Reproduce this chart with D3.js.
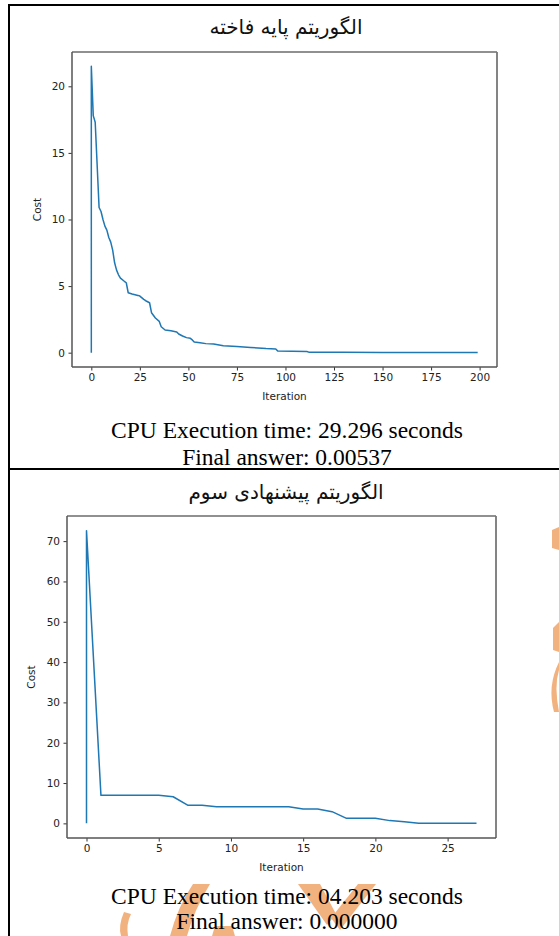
<!DOCTYPE html>
<html>
<head>
<meta charset="utf-8">
<script src="https://cdn.jsdelivr.net/npm/d3@7"></script>
<style>
body { margin:0; background:#fff; }
svg text { font-family: "DejaVu Sans", sans-serif; }
</style>
</head>
<body>
<svg id="page" width="559" height="936"></svg>
<script>
// first cell: basic cuckoo algorithm
const topTitle = "الگوریتم پایه فاخته";
const topIter = [0, 0, 1, 2, 4, 5, 6, 7, 8, 9, 10, 11, 12, 13, 14, 15, 17, 18, 19, 21, 24, 25, 27, 28, 30, 31, 33, 35, 36, 38, 41, 44, 45, 47, 49, 51, 52, 53, 56, 59, 63, 68, 75, 82, 90, 95, 96, 111, 112, 130, 150, 199];
const topCost = [0, 21.5, 17.8, 17.3, 10.9, 10.6, 10.0, 9.5, 9.2, 8.65, 8.3, 7.7, 6.75, 6.2, 5.85, 5.6, 5.36, 5.25, 4.5, 4.4, 4.3, 4.25, 4.0, 3.9, 3.75, 3.0, 2.6, 2.35, 1.95, 1.7, 1.64, 1.55, 1.4, 1.25, 1.13, 1.08, 0.96, 0.8, 0.75, 0.68, 0.66, 0.52, 0.46, 0.39, 0.31, 0.28, 0.12, 0.09, 0.04, 0.03, 0.02, 0.00537];
const topXTicks = [0, 25, 50, 75, 100, 125, 150, 175, 200];
const topYTicks = [0, 5, 10, 15, 20];
const topNotes = ["CPU Execution time: 29.296 seconds", "Final answer: 0.00537"];

// second cell: third proposed algorithm
const botTitle = "الگوریتم پیشنهادی سوم";
const botIter = [0, 0, 1, 2, 3, 4, 5, 6, 7, 8, 9, 10, 11, 12, 13, 14, 15, 16, 17, 18, 19, 20, 21, 22, 23, 24, 25, 26, 27];
const botCost = [0, 72.6, 6.95, 6.95, 6.95, 6.95, 6.95, 6.6, 4.5, 4.5, 4.1, 4.1, 4.1, 4.1, 4.1, 4.1, 3.55, 3.55, 2.9, 1.25, 1.25, 1.25, 0.68, 0.43, 0.02, 0, 0, 0, 0];
const botXTicks = [0, 5, 10, 15, 20, 25];
const botYTicks = [0, 10, 20, 30, 40, 50, 60, 70];
const botNotes = ["CPU Execution time: 04.203 seconds", "Final answer: 0.000000"];

const svg = d3.select("#page");
const wm = "#f2b27f";

// watermark bits (behind everything)
const mark = svg.append("g").attr("fill", wm).attr("stroke", "none");
mark.append("path").attr("d", "M552,530 L559,527 L559,550 L552,548 Z");
mark.append("path").attr("d", "M553,628 L559,622 L559,652 L553,650 Z");
mark.append("path").attr("d", "M559,662 Q547,686 554,712 L559,712 Q554,686 559,670 Z");
mark.append("path").attr("d", "M193,884 L210,884 Q194,910 187,936 L170,936 Q178,906 193,884 Z");
mark.append("path").attr("d", "M298,884 L320,884 L336,914 L327,925 Z");
mark.append("path").attr("d", "M358,884 L376,884 L340,930 L331,918 Z");
mark.append("path").attr("d", "M215,926 L232,926 L235,936 L212,936 Z");
mark.append("path").attr("d", "M124,912 Q118,926 121,936 L128,936 Q126,924 131,914 Z");

function drawPlot(box, iter, cost, xTicks, yTicks) {
  const xs = d3.extent(iter), ys = d3.extent(cost);
  const xm = (xs[1] - xs[0]) * 0.05, ym = (ys[1] - ys[0]) * 0.05;
  const x = d3.scaleLinear().domain([xs[0] - xm, xs[1] + xm]).range([box.x0, box.x1]);
  const y = d3.scaleLinear().domain([ys[0] - ym, ys[1] + ym]).range([box.y1, box.y0]);

  const g = svg.append("g");
  const xAxis = g.append("g")
    .attr("transform", `translate(0,${box.y1})`)
    .call(d3.axisBottom(x).tickValues(xTicks).tickSize(3.5).tickPadding(3.5));
  const yAxis = g.append("g")
    .attr("transform", `translate(${box.x0},0)`)
    .call(d3.axisLeft(y).tickValues(yTicks).tickSize(3.5).tickPadding(3.5));
  [xAxis, yAxis].forEach(a => {
    a.select(".domain").remove();
    a.selectAll("line").attr("stroke", "#333");
    a.selectAll("text").attr("fill", "#222").style("font-size", "10.5px")
      .style("font-family", "DejaVu Sans");
  });

  const line = d3.line().x(i => x(iter[i])).y(i => y(cost[i]));
  g.append("path").datum(d3.range(iter.length))
    .attr("d", line)
    .attr("fill", "none")
    .attr("stroke", "#1f77b4")
    .attr("stroke-width", 1.5)
    .attr("stroke-linejoin", "round");

  // spines
  g.append("line").attr("x1", box.x0).attr("x2", box.x1).attr("y1", box.y0).attr("y2", box.y0)
    .attr("stroke", "#222").attr("stroke-width", 1.2);
  g.append("line").attr("x1", box.x0).attr("x2", box.x0).attr("y1", box.y0).attr("y2", box.y1)
    .attr("stroke", "#555").attr("stroke-width", 1.5);
  g.append("line").attr("x1", box.x1).attr("x2", box.x1).attr("y1", box.y0).attr("y2", box.y1)
    .attr("stroke", "#777").attr("stroke-width", 1.8);
  g.append("line").attr("x1", box.x0).attr("x2", box.x1).attr("y1", box.y1).attr("y2", box.y1)
    .attr("stroke", "#555").attr("stroke-width", 1.5);

  g.append("text")
    .attr("x", (box.x0 + box.x1) / 2).attr("y", box.y1 + 33)
    .attr("text-anchor", "middle").style("font-size", "10.5px").attr("fill", "#222")
    .text("Iteration");
  g.append("text")
    .attr("transform", `translate(${box.labelX},${(box.y0 + box.y1) / 2}) rotate(-90)`)
    .attr("text-anchor", "middle").style("font-size", "10.5px").attr("fill", "#222")
    .text("Cost");
}

function drawCell(title, titleY, notes, notesY) {
  svg.append("text")
    .attr("x", 286).attr("y", titleY).attr("dy", "0.35em")
    .attr("text-anchor", "middle")
    .style("font-size", "20px").attr("fill", "#111")
    .text(title);
  notes.forEach((t, i) => {
    svg.append("text")
      .attr("x", 287).attr("y", notesY[i]).attr("dy", "0.33em")
      .attr("text-anchor", "middle")
      .style("font-family", "Liberation Serif").style("font-size", "23.5px").attr("fill", "#000")
      .text(t);
  });
}

drawCell(topTitle, 27, topNotes, [430, 457]);
drawPlot({x0: 72, x1: 497, y0: 52, y1: 367, labelX: 41}, topIter, topCost, topXTicks, topYTicks);

drawCell(botTitle, 492, botNotes, [896, 921]);
drawPlot({x0: 67, x1: 496, y0: 516, y1: 838, labelX: 35}, botIter, botCost, botXTicks, botYTicks);

// table rules
svg.append("rect").attr("x", 8).attr("y", 4).attr("width", 551).attr("height", 2).attr("fill", "#000");
svg.append("rect").attr("x", 8).attr("y", 4).attr("width", 2).attr("height", 932).attr("fill", "#000");
svg.append("rect").attr("x", 8).attr("y", 468).attr("width", 551).attr("height", 2).attr("fill", "#000");
</script>
</body>
</html>
